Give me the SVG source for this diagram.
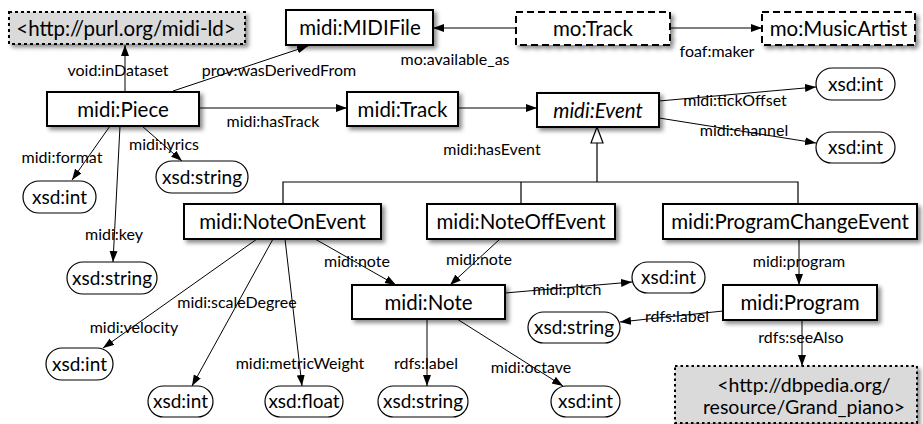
<svg xmlns="http://www.w3.org/2000/svg" width="923" height="424" viewBox="0 0 923 424">
<defs>
<filter id="sh" x="-10%" y="-20%" width="130%" height="160%">
<feDropShadow dx="3" dy="3" stdDeviation="2" flood-color="#000" flood-opacity="0.45"/>
</filter>
<marker id="arr" markerUnits="userSpaceOnUse" markerWidth="12" markerHeight="10" refX="11" refY="4" orient="auto">
<path d="M0,0 L11,4 L0,8 Z" fill="#000"/>
</marker>
<style>
.box{fill:#fff;stroke:#000;stroke-width:2;filter:url(#sh)}
.dash{fill:#fff;stroke:#000;stroke-width:2;stroke-dasharray:7 4;filter:url(#sh)}
.uri{fill:#dadada;stroke:#000;stroke-width:2;stroke-dasharray:3 3;filter:url(#sh)}
.uri2{fill:#dadada;stroke:#000;stroke-width:2;stroke-dasharray:2.5 3;filter:url(#sh)}
.lit{fill:#fff;stroke:#000;stroke-width:1.2}
.t{font-family:Lato,"Liberation Sans",sans-serif;font-size:20.5px;text-anchor:middle;fill:#000}
.t2{font-family:Lato,"Liberation Sans",sans-serif;font-size:19.5px;text-anchor:middle;fill:#000}
.lt{font-family:Lato,"Liberation Sans",sans-serif;font-size:19px;text-anchor:middle;fill:#000}
.lb{font-family:Lato,"Liberation Sans",sans-serif;font-size:16px;text-anchor:middle;fill:#000}
.e{stroke:#000;stroke-width:1;fill:none;marker-end:url(#arr)}
.h{stroke:#000;stroke-width:1.2;fill:none}
</style>
</defs>
<rect width="923" height="424" fill="#fff"/>
<g id="connectors">
<line class="e" x1="125" y1="92" x2="125" y2="45"/>
<line class="e" x1="173" y1="91" x2="308" y2="46"/>
<line class="e" x1="516" y1="28" x2="433" y2="28"/>
<line class="e" x1="670" y1="28" x2="762" y2="28"/>
<line class="e" x1="199" y1="108" x2="347" y2="108"/>
<line class="e" x1="458" y1="108" x2="537" y2="108"/>
<line class="e" x1="659" y1="101" x2="816" y2="87"/>
<line class="e" x1="659" y1="118" x2="816" y2="143"/>
<line class="e" x1="110" y1="126" x2="72" y2="180"/>
<line class="e" x1="142" y1="126" x2="182" y2="161"/>
<line class="e" x1="120" y1="126" x2="113" y2="262"/>
<line class="e" x1="315" y1="239" x2="396" y2="285"/>
<line class="e" x1="500" y1="239" x2="450" y2="285"/>
<line class="e" x1="257" y1="239" x2="103" y2="348"/>
<line class="e" x1="273" y1="239" x2="192" y2="386"/>
<line class="e" x1="285" y1="239" x2="302" y2="386"/>
<line class="e" x1="427" y1="319" x2="427" y2="386"/>
<line class="e" x1="457" y1="319" x2="563" y2="386"/>
<line class="e" x1="505" y1="293" x2="632" y2="282"/>
<line class="e" x1="799" y1="239" x2="799" y2="285"/>
<line class="e" x1="723" y1="311" x2="620" y2="322"/>
<line class="e" x1="802" y1="320" x2="802" y2="366"/>
<path class="h" d="M283,204 V182 H798 V204 M521,182 V204 M597,182 V143"/>
<polygon points="597,127 591,143 603,143" fill="#fff" stroke="#000" stroke-width="1.2"/>
<text class="lb" x="118" y="76">void:inDataset</text>
<text class="lb" x="279" y="76">prov:wasDerivedFrom</text>
<text class="lb" x="455" y="65">mo:available_as</text>
<text class="lb" x="717" y="57">foaf:maker</text>
<text class="lb" x="273" y="127">midi:hasTrack</text>
<text class="lb" x="735" y="106">midi:tickOffset</text>
<text class="lb" x="744" y="136">midi:channel</text>
<text class="lb" x="62" y="163">midi:format</text>
<text class="lb" x="164" y="150">midi:lyrics</text>
<text class="lb" x="114" y="240">midi:key</text>
<text class="lb" x="492" y="155">midi:hasEvent</text>
<text class="lb" x="357" y="267">midi:note</text>
<text class="lb" x="479" y="265">midi:note</text>
<text class="lb" x="134" y="333">midi:velocity</text>
<text class="lb" x="237" y="308">midi:scaleDegree</text>
<text class="lb" x="300" y="369">midi:metricWeight</text>
<text class="lb" x="426" y="369">rdfs:label</text>
<text class="lb" x="531" y="373">midi:octave</text>
<text class="lb" x="567" y="295">midi:pitch</text>
<text class="lb" x="799" y="267">midi:program</text>
<text class="lb" x="677" y="322">rdfs:label</text>
<text class="lb" x="801" y="343">rdfs:seeAlso</text>
</g>
<g id="n-purl"><rect class="uri" x="9" y="12" width="236" height="32"/><text class="t" x="126" y="35.5">&lt;http://purl.org/midi-ld&gt;</text></g>
<g id="n-midifile"><rect class="box" x="286" y="10" width="147" height="35"/><text class="t" x="360" y="35">midi:MIDIFile</text></g>
<g id="n-motrack"><rect class="dash" x="516" y="12" width="154" height="33"/><text class="t" x="593" y="36">mo:Track</text></g>
<g id="n-artist"><rect class="dash" x="762" y="12" width="153" height="33"/><text class="t" x="838.5" y="36">mo:MusicArtist</text></g>
<g id="n-piece"><rect class="box" x="47" y="92" width="152" height="34"/><text class="t" x="123" y="116.5">midi:Piece</text></g>
<g id="n-track"><rect class="box" x="347" y="92" width="111" height="34"/><text class="t" x="402.5" y="116.5">midi:Track</text></g>
<g id="n-event"><rect class="box" x="537" y="93" width="122" height="34"/><text class="t" x="598" y="117.5" font-style="italic">midi:Event</text></g>
<g id="n-int-tick"><rect class="lit" x="816" y="68" width="79" height="32" rx="16"/><text class="lt" x="855.5" y="91">xsd:int</text></g>
<g id="n-int-chan"><rect class="lit" x="816" y="132" width="79" height="31" rx="15.5"/><text class="lt" x="855.5" y="154">xsd:int</text></g>
<g id="n-str-lyrics"><rect class="lit" x="156" y="161" width="92" height="32" rx="16"/><text class="lt" x="202" y="184">xsd:string</text></g>
<g id="n-int-format"><rect class="lit" x="23" y="181" width="73" height="32" rx="16"/><text class="lt" x="59.5" y="204">xsd:int</text></g>
<g id="n-noteon"><rect class="box" x="184" y="204" width="197" height="35"/><text class="t" x="282.5" y="229">midi:NoteOnEvent</text></g>
<g id="n-noteoff"><rect class="box" x="427" y="204" width="188" height="35"/><text class="t" x="521" y="229">midi:NoteOffEvent</text></g>
<g id="n-pce"><rect class="box" x="663" y="204" width="254" height="35"/><text class="t" x="790" y="229">midi:ProgramChangeEvent</text></g>
<g id="n-str-key"><rect class="lit" x="67" y="262" width="90" height="32" rx="16"/><text class="lt" x="112" y="285">xsd:string</text></g>
<g id="n-note"><rect class="box" x="352" y="285" width="153" height="34"/><text class="t" x="428.5" y="309.5">midi:Note</text></g>
<g id="n-int-pitch"><rect class="lit" x="632" y="262" width="73" height="31" rx="15.5"/><text class="lt" x="668.5" y="284">xsd:int</text></g>
<g id="n-program"><rect class="box" x="723" y="285" width="154" height="35"/><text class="t" x="800" y="310">midi:Program</text></g>
<g id="n-str-prog"><rect class="lit" x="528" y="312" width="92" height="31" rx="15.5"/><text class="lt" x="574" y="334">xsd:string</text></g>
<g id="n-int-vel"><rect class="lit" x="46" y="348" width="67" height="32" rx="16"/><text class="lt" x="79.5" y="371">xsd:int</text></g>
<g id="n-int-scale"><rect class="lit" x="148" y="386" width="65" height="31" rx="15.5"/><text class="lt" x="180.5" y="408">xsd:int</text></g>
<g id="n-float"><rect class="lit" x="265" y="386" width="78" height="31" rx="15.5"/><text class="lt" x="304" y="408">xsd:float</text></g>
<g id="n-str-note"><rect class="lit" x="378" y="386" width="90" height="31" rx="15.5"/><text class="lt" x="423" y="408">xsd:string</text></g>
<g id="n-int-oct"><rect class="lit" x="551" y="386" width="69" height="31" rx="15.5"/><text class="lt" x="585.5" y="408">xsd:int</text></g>
<g id="n-dbpedia"><rect class="uri2" x="675" y="366" width="242" height="57"/><text class="t2" x="804" y="391.5">&lt;http://dbpedia.org/</text><text class="t2" x="804" y="414">resource/Grand_piano&gt;</text></g>
</svg>
